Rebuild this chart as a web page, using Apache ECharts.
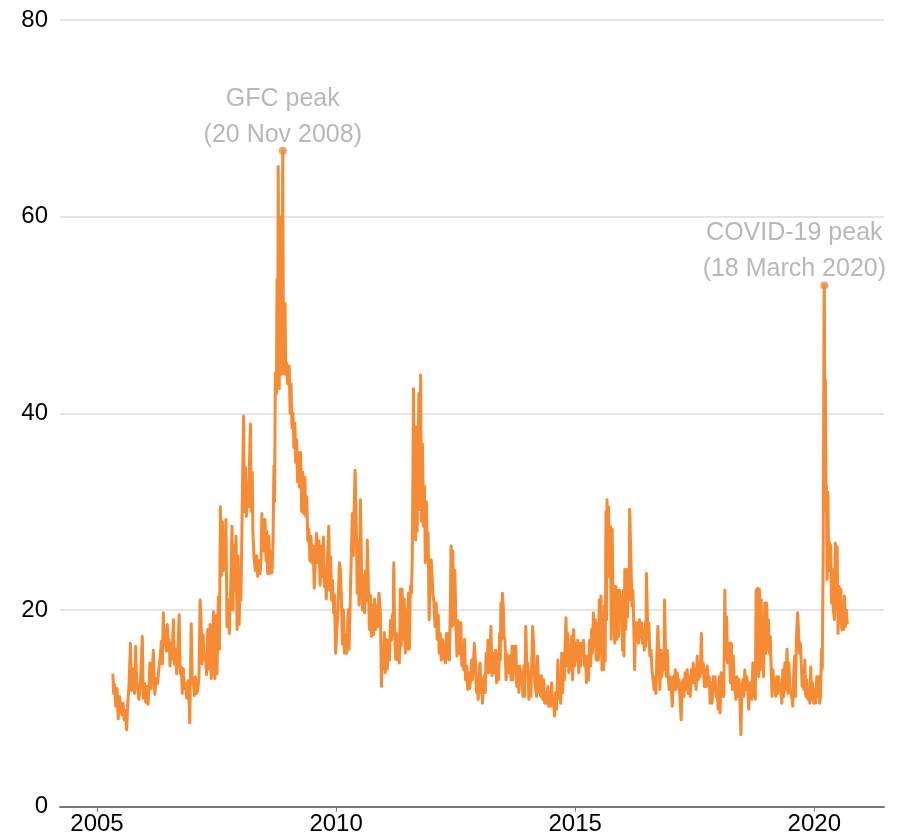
<!DOCTYPE html>
<html>
<head>
<meta charset="utf-8">
<title>Volatility index</title>
<script src="https://cdn.jsdelivr.net/npm/echarts@6/dist/echarts.min.js"></script>
<style>
  html, body { margin: 0; padding: 0; background: #fff; }
  #chart { width: 906px; height: 840px; }
</style>
</head>
<body>
<div id="chart"></div>
<script>
  // readings by year: [month-day, index level]
  var vix2005 = [
    ['05-02', 13.5], ['05-08', 11.5], ['05-15', 12.4], ['05-24', 10.2],
    ['06-03', 12.0], ['06-12', 8.9], ['06-22', 11.2],
    ['07-01', 11.0], ['07-10', 9.3], ['07-19', 10.5], ['07-27', 8.8],
    ['08-05', 9.8], ['08-15', 7.8], ['08-25', 10.8],
    ['09-03', 12.5], ['09-13', 16.6], ['09-20', 11.8], ['09-28', 14.0],
    ['10-06', 13.0], ['10-14', 11.5], ['10-23', 16.3], ['10-30', 12.8],
    ['11-08', 12.6], ['11-17', 10.9], ['11-26', 12.0],
    ['12-04', 12.0], ['12-13', 17.3], ['12-20', 11.0], ['12-29', 12.5]
  ]
  var vix2006 = [
    ['01-08', 10.6], ['01-16', 12.2], ['01-25', 10.4],
    ['02-02', 12.0], ['02-09', 14.6], ['02-18', 12.0], ['02-26', 13.5],
    ['03-07', 15.9], ['03-18', 11.4], ['03-28', 13.0],
    ['04-08', 12.5], ['04-15', 13.6], ['04-27', 15.0],
    ['05-08', 16.8], ['05-15', 14.5], ['05-22', 19.7], ['05-30', 16.5],
    ['06-08', 18.0], ['06-15', 15.8], ['06-22', 18.5], ['06-29', 16.0],
    ['07-06', 17.0], ['07-12', 14.3], ['07-20', 16.5], ['07-28', 15.0],
    ['08-07', 19.0], ['08-15', 14.5], ['08-23', 16.0], ['08-31', 13.5],
    ['09-08', 15.0], ['09-20', 19.5], ['09-28', 13.5],
    ['10-06', 14.2], ['10-14', 11.5], ['10-22', 14.0], ['10-30', 12.0],
    ['11-08', 12.5], ['11-17', 11.0], ['11-26', 12.8],
    ['12-03', 11.5], ['12-10', 8.5], ['12-21', 18.6], ['12-29', 12.5]
  ]
  var vix2007 = [
    ['01-06', 13.0], ['01-14', 11.3], ['01-22', 13.2], ['01-30', 11.5],
    ['02-08', 11.8], ['02-18', 13.0], ['02-27', 21.0],
    ['03-06', 19.0], ['03-14', 14.5], ['03-22', 17.5], ['03-30', 15.0],
    ['04-08', 15.5], ['04-17', 13.4], ['04-26', 18.0],
    ['05-05', 14.0], ['05-14', 18.5], ['05-23', 13.0],
    ['06-02', 17.0], ['06-10', 19.8], ['06-19', 13.0], ['06-28', 19.4],
    ['07-06', 13.5], ['07-16', 21.3], ['07-24', 16.0],
    ['08-01', 30.5], ['08-08', 23.5], ['08-16', 29.0], ['08-24', 24.0],
    ['09-04', 25.0], ['09-12', 29.2], ['09-20', 18.3], ['09-28', 21.0],
    ['10-08', 17.6], ['10-18', 22.0], ['10-28', 28.5],
    ['11-05', 20.0], ['11-12', 26.5], ['11-20', 22.0], ['11-28', 27.5],
    ['12-06', 18.0], ['12-14', 25.5], ['12-22', 18.5], ['12-30', 24.0]
  ]
  var vix2008 = [
    ['01-04', 21.0], ['01-10', 26.0], ['01-17', 33.0], ['01-25', 39.7],
    ['02-01', 30.0], ['02-08', 34.5], ['02-15', 29.5], ['02-24', 33.0],
    ['03-04', 30.5], ['03-10', 35.0], ['03-17', 38.9], ['03-24', 30.0], ['03-31', 34.0],
    ['04-05', 28.0], ['04-14', 25.3], ['04-24', 24.0],
    ['05-04', 25.5], ['05-12', 23.4], ['05-22', 25.0], ['05-30', 23.7],
    ['06-06', 25.0], ['06-13', 29.8], ['06-22', 26.0], ['06-30', 28.5],
    ['07-07', 29.2], ['07-15', 25.0], ['07-20', 28.0], ['07-27', 23.7],
    ['08-05', 27.5], ['08-14', 23.7], ['08-22', 26.0], ['08-29', 23.8],
    ['09-06', 26.5], ['09-13', 34.6], ['09-18', 31.0], ['09-24', 44.1],
    ['10-02', 42.0], ['10-07', 53.6], ['10-12', 43.0], ['10-16', 65.1], ['10-21', 50.0], ['10-24', 42.5], ['10-28', 60.0],
    ['11-01', 45.0], ['11-06', 55.0], ['11-11', 44.0], ['11-16', 58.0], ['11-20', 66.7], ['11-24', 48.0], ['11-28', 45.0],
    ['12-03', 44.0], ['12-07', 51.2], ['12-12', 44.5], ['12-19', 45.1], ['12-26', 43.0]
  ]
  var vix2009 = [
    ['01-08', 44.8], ['01-15', 40.0], ['01-22', 43.0], ['01-29', 38.5],
    ['02-06', 40.0], ['02-13', 36.5], ['02-20', 39.0], ['02-27', 35.0],
    ['03-06', 37.3], ['03-13', 33.0], ['03-20', 36.0], ['03-28', 32.5],
    ['04-05', 36.0], ['04-13', 30.0], ['04-21', 34.0], ['04-29', 29.8],
    ['05-07', 33.5], ['05-15', 29.5], ['05-22', 31.5], ['05-30', 27.0],
    ['06-07', 28.2], ['06-15', 25.0], ['06-23', 27.5],
    ['07-01', 24.8], ['07-10', 26.5], ['07-18', 22.2], ['07-27', 25.0],
    ['08-05', 27.8], ['08-14', 24.8], ['08-23', 27.0],
    ['09-01', 22.5], ['09-09', 26.5], ['09-17', 23.4], ['09-26', 27.4],
    ['10-03', 22.4], ['10-10', 24.0], ['10-18', 21.1], ['10-26', 25.0],
    ['11-06', 28.5], ['11-13', 22.0], ['11-20', 25.4], ['11-28', 21.0],
    ['12-04', 23.0], ['12-13', 19.7], ['12-20', 21.5], ['12-28', 15.6]
  ]
  var vix2010 = [
    ['01-08', 18.3], ['01-15', 20.0], ['01-26', 24.8],
    ['02-03', 24.0], ['02-10', 21.5], ['02-18', 16.5], ['02-26', 20.0],
    ['03-06', 15.6], ['03-14', 17.5], ['03-24', 15.6],
    ['04-03', 20.0], ['04-10', 16.0], ['04-20', 21.7],
    ['05-05', 29.8], ['05-12', 25.5], ['05-18', 30.0], ['05-26', 34.2],
    ['06-04', 28.5], ['06-11', 21.7], ['06-18', 27.0], ['06-25', 20.5],
    ['07-06', 31.2], ['07-13', 25.0], ['07-21', 20.0], ['07-29', 23.5],
    ['08-06', 19.7], ['08-14', 24.0], ['08-22', 21.0], ['08-27', 27.1],
    ['09-04', 22.4], ['09-12', 18.0], ['09-20', 21.5], ['09-28', 17.3],
    ['10-06', 20.5], ['10-14', 17.5], ['10-22', 21.1], ['10-30', 18.0],
    ['11-06', 20.4], ['11-14', 18.3], ['11-24', 21.7],
    ['12-04', 20.0], ['12-08', 17.3], ['12-13', 12.2], ['12-20', 16.0], ['12-28', 14.0]
  ]
  var vix2011 = [
    ['01-04', 17.7], ['01-11', 13.6], ['01-19', 17.0], ['01-27', 14.0],
    ['02-05', 16.9], ['02-12', 14.9], ['02-20', 18.9], ['02-27', 16.9],
    ['03-06', 19.5], ['03-12', 17.5], ['03-17', 24.8], ['03-24', 17.6], ['03-31', 15.0],
    ['04-07', 17.6], ['04-14', 14.9], ['04-22', 17.0], ['04-29', 14.6],
    ['05-06', 22.1], ['05-13', 16.3], ['05-20', 22.1], ['05-28', 17.0],
    ['06-05', 21.1], ['06-13', 15.6], ['06-22', 20.0], ['06-30', 16.0],
    ['07-07', 21.7], ['07-14', 16.0], ['07-22', 22.4], ['07-30', 21.7],
    ['08-05', 25.1], ['08-10', 33.0], ['08-15', 42.5], ['08-20', 31.0], ['08-25', 38.6], ['08-31', 27.1],
    ['09-06', 38.6], ['09-12', 28.0], ['09-18', 36.0], ['09-25', 42.0],
    ['10-03', 30.2], ['10-08', 43.9], ['10-15', 29.0], ['10-22', 36.9], ['10-30', 28.5],
    ['11-06', 32.6], ['11-13', 24.8], ['11-21', 31.0], ['11-28', 25.5],
    ['12-04', 27.8], ['12-12', 19.0], ['12-20', 23.0], ['12-28', 25.1]
  ]
  var vix2012 = [
    ['01-04', 25.0], ['01-10', 21.7], ['01-18', 20.7], ['01-26', 18.3],
    ['02-04', 20.7], ['02-12', 17.0], ['02-20', 19.5], ['02-27', 15.6],
    ['03-06', 17.6], ['03-14', 14.9], ['03-22', 17.0], ['03-30', 15.0],
    ['04-07', 16.5], ['04-15', 14.6], ['04-22', 17.6], ['04-30', 15.0],
    ['05-08', 17.6], ['05-15', 14.9], ['05-22', 20.0], ['05-28', 26.5],
    ['06-04', 18.3], ['06-10', 26.0], ['06-18', 18.5], ['06-26', 24.0],
    ['07-04', 18.6], ['07-12', 15.3], ['07-20', 18.9], ['07-28', 15.5],
    ['08-05', 17.0], ['08-11', 18.7], ['08-18', 14.3], ['08-26', 16.0],
    ['09-02', 13.9], ['09-08', 17.0], ['09-16', 12.9], ['09-25', 14.3],
    ['10-02', 11.9], ['10-10', 13.6], ['10-18', 12.0], ['10-26', 13.2],
    ['11-01', 14.9], ['11-08', 12.9], ['11-15', 14.5], ['11-22', 16.6],
    ['12-01', 14.6], ['12-08', 11.6], ['12-15', 12.6], ['12-22', 10.9], ['12-30', 14.0]
  ]
  var vix2013 = [
    ['01-05', 14.6], ['01-12', 11.6], ['01-18', 13.0], ['01-23', 10.5], ['01-30', 12.5],
    ['02-06', 13.3], ['02-13', 11.6], ['02-20', 15.6], ['02-27', 13.6],
    ['03-06', 16.9], ['03-13', 13.6], ['03-21', 15.6], ['03-29', 18.3],
    ['04-06', 13.3], ['04-14', 15.6], ['04-24', 13.6],
    ['05-04', 15.9], ['05-11', 12.6], ['05-19', 15.6], ['05-27', 12.9],
    ['06-03', 17.6], ['06-08', 14.9], ['06-13', 20.7], ['06-18', 17.0], ['06-24', 21.7],
    ['07-01', 20.4], ['07-07', 17.3], ['07-14', 16.9], ['07-22', 12.9], ['07-30', 15.5],
    ['08-06', 15.6], ['08-14', 13.6], ['08-22', 15.3], ['08-30', 12.9],
    ['09-06', 16.3], ['09-14', 12.9], ['09-22', 16.3], ['09-30', 14.3],
    ['10-05', 16.3], ['10-12', 12.2], ['10-20', 14.3], ['10-28', 11.6],
    ['11-05', 14.3], ['11-12', 12.6], ['11-20', 13.6], ['11-28', 11.2],
    ['12-05', 14.3], ['12-12', 11.2], ['12-20', 18.3], ['12-28', 14.0]
  ]
  var vix2014 = [
    ['01-05', 14.6], ['01-12', 10.9], ['01-20', 13.6], ['01-28', 11.2],
    ['02-03', 14.3], ['02-10', 18.3], ['02-18', 16.3], ['02-26', 12.9],
    ['03-05', 12.9], ['03-12', 11.2], ['03-20', 15.3], ['03-28', 11.6],
    ['04-05', 13.3], ['04-12', 11.2], ['04-20', 13.3], ['04-28', 10.9],
    ['05-06', 12.9], ['05-13', 10.5], ['05-21', 11.6], ['05-29', 10.5],
    ['06-06', 12.2], ['06-13', 10.2], ['06-21', 11.6], ['06-29', 10.2],
    ['07-05', 12.6], ['07-12', 10.5], ['07-19', 10.9], ['07-27', 9.2],
    ['08-04', 11.6], ['08-12', 9.9], ['08-22', 14.9], ['08-29', 11.0],
    ['09-05', 12.9], ['09-12', 10.5], ['09-20', 15.6], ['09-28', 11.6],
    ['10-05', 15.6], ['10-10', 12.9], ['10-16', 16.3], ['10-23', 19.2], ['10-30', 14.3],
    ['11-06', 17.6], ['11-13', 13.6], ['11-21', 16.3], ['11-28', 13.9],
    ['12-05', 17.3], ['12-12', 12.9], ['12-20', 18.0], ['12-28', 14.3]
  ]
  var vix2015 = [
    ['01-05', 16.6], ['01-12', 14.9], ['01-20', 16.9], ['01-28', 13.6],
    ['02-05', 16.6], ['02-12', 14.3], ['02-20', 16.6], ['02-27', 15.3],
    ['03-06', 16.9], ['03-13', 14.3], ['03-20', 15.3], ['03-28', 12.6],
    ['04-06', 15.3], ['04-13', 12.9], ['04-21', 16.9], ['04-29', 14.3],
    ['05-06', 18.0], ['05-13', 15.6], ['05-20', 19.7], ['05-28', 16.3],
    ['06-04', 19.0], ['06-11', 14.9], ['06-19', 18.6], ['06-27', 14.9],
    ['07-04', 21.0], ['07-10', 15.6], ['07-17', 21.4], ['07-24', 13.9], ['07-31', 18.0],
    ['08-05', 13.9], ['08-12', 20.4], ['08-18', 14.8], ['08-24', 30.0], ['08-28', 19.0],
    ['09-01', 31.2], ['09-06', 24.0], ['09-13', 30.5], ['09-19', 23.4], ['09-27', 28.5],
    ['10-03', 17.0], ['10-10', 28.2], ['10-18', 19.3], ['10-25', 18.7], ['10-30', 16.6],
    ['11-06', 22.4], ['11-13', 17.0], ['11-20', 22.0], ['11-28', 17.3],
    ['12-06', 22.0], ['12-12', 19.3], ['12-20', 21.4], ['12-28', 15.9]
  ]
  var vix2016 = [
    ['01-04', 22.0], ['01-08', 15.3], ['01-15', 24.1], ['01-22', 18.0], ['01-29', 24.1],
    ['02-05', 19.3], ['02-12', 24.1], ['02-17', 21.0], ['02-21', 30.2], ['02-27', 27.0],
    ['03-04', 27.1], ['03-10', 20.4], ['03-17', 22.0], ['03-24', 18.0], ['03-30', 13.9],
    ['04-06', 18.7], ['04-13', 17.6], ['04-21', 18.7], ['04-28', 16.6],
    ['05-06', 19.0], ['05-13', 17.3], ['05-21', 18.7], ['05-28', 16.6],
    ['06-05', 18.0], ['06-12', 15.9], ['06-19', 18.7], ['06-24', 16.3], ['06-28', 23.7],
    ['07-04', 20.4], ['07-10', 17.0], ['07-17', 18.7], ['07-24', 15.3],
    ['08-02', 15.9], ['08-10', 13.9], ['08-18', 13.9], ['08-26', 11.9],
    ['09-02', 13.2], ['09-09', 11.5], ['09-16', 15.3], ['09-24', 18.3],
    ['10-02', 15.3], ['10-09', 11.9], ['10-17', 15.9], ['10-25', 13.2],
    ['11-03', 15.3], ['11-09', 13.9], ['11-14', 21.0], ['11-21', 15.9], ['11-28', 13.2],
    ['12-05', 15.9], ['12-12', 13.2], ['12-20', 11.9], ['12-28', 13.2]
  ]
  var vix2017 = [
    ['01-05', 11.9], ['01-12', 10.2], ['01-20', 13.2], ['01-28', 11.9],
    ['02-04', 13.9], ['02-11', 11.9], ['02-19', 13.6], ['02-26', 12.2],
    ['03-05', 12.9], ['03-12', 10.9], ['03-21', 8.8], ['03-28', 12.5],
    ['04-05', 12.9], ['04-12', 11.2], ['04-20', 13.6], ['04-28', 11.9],
    ['05-06', 13.9], ['05-13', 11.5], ['05-21', 13.2], ['05-29', 11.2],
    ['06-06', 13.9], ['06-13', 12.6], ['06-21', 14.6], ['06-29', 12.6],
    ['07-06', 13.9], ['07-13', 11.9], ['07-21', 15.3], ['07-29', 12.9],
    ['08-06', 14.6], ['08-13', 13.2], ['08-22', 17.6], ['08-29', 13.6],
    ['09-06', 14.6], ['09-13', 12.2], ['09-21', 13.9], ['09-29', 12.2],
    ['10-06', 14.3], ['10-13', 12.9], ['10-21', 13.2], ['10-28', 10.5],
    ['11-05', 12.6], ['11-12', 10.5], ['11-20', 13.2], ['11-28', 11.9],
    ['12-05', 13.2], ['12-12', 11.2], ['12-20', 11.9], ['12-28', 9.9]
  ]
  var vix2018 = [
    ['01-05', 13.2], ['01-12', 9.5], ['01-20', 13.6], ['01-28', 11.2],
    ['02-03', 12.2], ['02-09', 11.2], ['02-17', 22.0], ['02-24', 15.0],
    ['03-03', 19.3], ['03-10', 14.6], ['03-17', 15.9], ['03-24', 16.6], ['03-31', 12.6],
    ['04-08', 16.6], ['04-15', 11.9], ['04-23', 15.3], ['04-30', 12.5],
    ['05-06', 11.9], ['05-13', 10.9], ['05-21', 13.2], ['05-29', 11.2],
    ['06-06', 12.9], ['06-13', 10.5], ['06-20', 7.3], ['06-27', 12.0],
    ['07-05', 12.9], ['07-12', 11.2], ['07-20', 13.9], ['07-28', 11.9],
    ['08-05', 13.2], ['08-12', 11.9], ['08-18', 9.9], ['08-26', 12.6],
    ['09-04', 11.9], ['09-11', 10.9], ['09-19', 14.6], ['09-27', 11.2],
    ['10-03', 13.9], ['10-08', 10.9], ['10-14', 22.0], ['10-20', 13.9], ['10-26', 22.2],
    ['11-02', 13.2], ['11-08', 22.1], ['11-15', 13.9], ['11-22', 21.0], ['11-29', 14.6],
    ['12-04', 17.3], ['12-10', 13.2], ['12-14', 16.6], ['12-19', 20.7], ['12-26', 15.6]
  ]
  var vix2019 = [
    ['01-03', 20.7], ['01-09', 16.0], ['01-16', 19.0], ['01-23', 15.6], ['01-30', 17.3],
    ['02-06', 13.9], ['02-13', 11.2], ['02-20', 13.9], ['02-27', 11.9],
    ['03-06', 12.5], ['03-13', 11.2], ['03-20', 13.2], ['03-28', 11.5],
    ['04-05', 13.2], ['04-12', 12.2], ['04-20', 11.9], ['04-28', 10.5],
    ['05-06', 13.9], ['05-13', 11.2], ['05-21', 14.6], ['05-29', 11.9],
    ['06-07', 16.0], ['06-14', 11.5], ['06-21', 14.6], ['06-29', 12.0],
    ['07-06', 12.2], ['07-13', 11.2], ['07-21', 10.2], ['07-29', 13.9],
    ['08-04', 15.3], ['08-10', 11.2], ['08-18', 17.3], ['08-27', 19.7],
    ['09-04', 17.3], ['09-10', 15.6], ['09-17', 16.6], ['09-24', 14.6], ['09-30', 12.2],
    ['10-07', 13.9], ['10-14', 11.9], ['10-21', 14.9], ['10-28', 11.2],
    ['11-05', 12.9], ['11-12', 10.9], ['11-20', 11.9], ['11-28', 10.5],
    ['12-05', 14.2], ['12-12', 10.9], ['12-20', 12.5], ['12-28', 10.5]
  ]
  var vix2020 = [
    ['01-05', 11.9], ['01-12', 10.5], ['01-20', 13.2], ['01-28', 11.2],
    ['02-04', 13.2], ['02-11', 10.5], ['02-18', 11.2], ['02-25', 16.0],
    ['03-02', 14.0], ['03-06', 20.7], ['03-09', 25.1], ['03-12', 35.6], ['03-16', 51.2], ['03-18', 53.0],
    ['03-20', 43.7], ['03-23', 31.0], ['03-26', 43.4], ['03-31', 30.0],
    ['04-03', 32.6], ['04-08', 23.1], ['04-14', 32.0], ['04-21', 24.0], ['04-28', 26.8],
    ['05-05', 26.5], ['05-12', 20.7], ['05-19', 24.1], ['05-26', 20.0],
    ['06-03', 19.0], ['06-10', 26.8], ['06-17', 20.0], ['06-24', 26.4],
    ['07-01', 17.6], ['07-08', 22.4], ['07-15', 18.7], ['07-22', 22.1], ['07-29', 18.0],
    ['08-05', 20.7], ['08-12', 18.0], ['08-19', 21.4], ['08-26', 18.3],
    ['09-02', 20.0], ['09-10', 18.5]
  ]

  var years = [2005, 2006, 2007, 2008, 2009, 2010, 2011, 2012, 2013, 2014, 2015, 2016, 2017, 2018, 2019, 2020]
  var yearData = [vix2005, vix2006, vix2007, vix2008, vix2009, vix2010, vix2011, vix2012,
    vix2013, vix2014, vix2015, vix2016, vix2017, vix2018, vix2019, vix2020]

  // annotated peaks
  var peakYears = [2008, 2020]
  var peakDays = ['11-20', '03-18']
  var peakValues = [66.7, 53.0]
  var peakLabels = ['GFC peak\n(20 Nov 2008)', 'COVID-19 peak\n(18 March 2020)']

  // axis labels
  var xTickYears = [2005, 2010, 2015, 2020]
  var yTicks = [0, 20, 40, 60, 80]

  // month-day -> fractional year, so the x axis can be a plain value axis
  function toYear(y, md) {
    var parts = md.split('-')
    var start = Date.UTC(y, 0, 1)
    var end = Date.UTC(y + 1, 0, 1)
    var t = Date.UTC(y, +parts[0] - 1, +parts[1])
    return y + (t - start) / (end - start)
  }

  var lineData = []
  years.forEach(function(y, i) {
    yearData[i].forEach(function(p) {
      lineData.push([toYear(y, p[0]), p[1]])
    })
  })

  var labelOffsets = [[0, 6], [-30, 6]]
  var peakData = peakYears.map(function(y, i) {
    return {
      value: [toYear(y, peakDays[i]), peakValues[i]],
      label: { formatter: peakLabels[i], offset: labelOffsets[i] }
    }
  })

  var fontFamily = '"Liberation Sans", Arial, Helvetica, sans-serif'
  var chart = echarts.init(document.getElementById('chart'))
  var option = {
    animation: false,
    backgroundColor: '#fff',
    grid: {
      left: 60,
      right: 22,
      top: 20,
      bottom: 33.5,
      containLabel: false,
      outerBoundsMode: 'none'
    },
    xAxis: {
      type: 'value',
      min: 2004.226,
      max: 2021.458,
      axisLine: { show: true, onZero: false, lineStyle: { color: '#777', width: 2 } },
      axisTick: {
        show: true,
        customValues: xTickYears,
        length: 5,
        lineStyle: { color: '#777', width: 1 }
      },
      axisLabel: {
        customValues: xTickYears,
        margin: 6,
        color: '#000',
        fontSize: 24,
        fontFamily: fontFamily,
        formatter: function(v) { return String(Math.round(v)) }
      },
      splitLine: { show: false }
    },
    yAxis: {
      type: 'value',
      min: yTicks[0],
      max: yTicks[yTicks.length - 1],
      interval: 20,
      axisLine: { show: false },
      axisTick: { show: false },
      axisLabel: {
        margin: 12,
        color: '#000',
        fontSize: 24,
        fontFamily: fontFamily
      },
      splitLine: { lineStyle: { color: '#dcdcdc', width: 1.5 } }
    },
    series: [
      {
        name: 'Volatility',
        type: 'line',
        data: lineData,
        showSymbol: false,
        symbol: 'none',
        lineStyle: { color: '#F68B33', width: 3, join: 'round' },
        z: 2
      },
      {
        name: 'Peaks',
        type: 'scatter',
        data: peakData,
        symbol: 'circle',
        symbolSize: 8,
        itemStyle: { color: '#F68B33' },
        label: {
          show: true,
          position: 'top',
          distance: 0,
          align: 'center',
          color: '#a6a6a6',
          fontSize: 25,
          lineHeight: 36,
          fontFamily: fontFamily
        },
        z: 3
      }
    ]
  }
  chart.setOption(option)
</script>
</body>
</html>
